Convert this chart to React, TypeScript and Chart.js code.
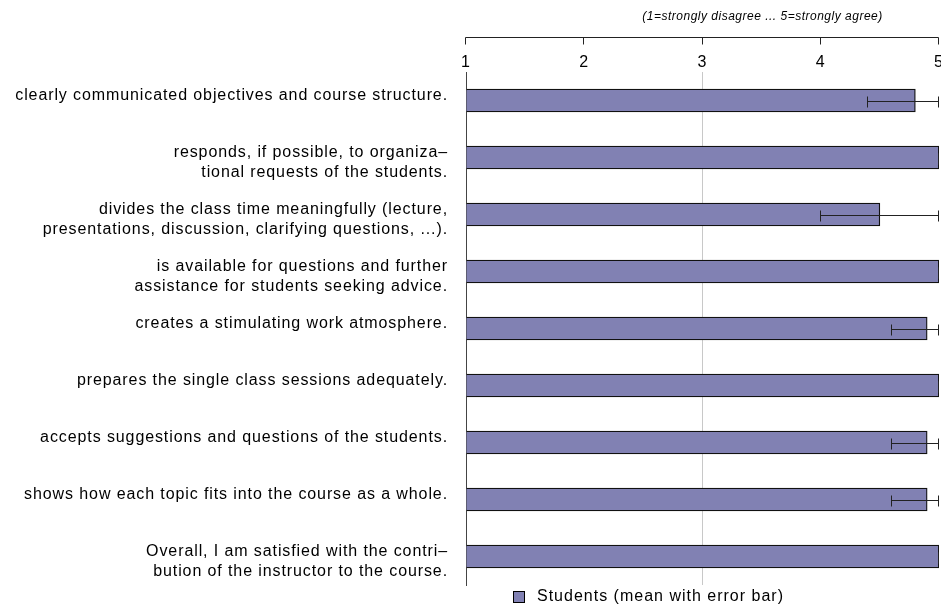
import React, { useEffect, useRef } from "react";
import { Chart, registerables } from "chart.js";

Chart.register(...registerables);

const categories: (string | string[])[] = [
  "clearly communicated objectives and course structure.",
  ["responds, if possible, to organiza–", "tional requests of the students."],
  ["divides the class time meaningfully (lecture,", "presentations, discussion, clarifying questions, ...)."],
  ["is available for questions and further", "assistance for students seeking advice."],
  "creates a stimulating work atmosphere.",
  "prepares the single class sessions adequately.",
  "accepts suggestions and questions of the students.",
  "shows how each topic fits into the course as a whole.",
  ["Overall, I am satisfied with the contri–", "bution of the instructor to the course."],
];
const means = [4.8, 5.0, 4.5, 5.0, 4.9, 5.0, 4.9, 4.9, 5.0];
const errLow = [4.4, 5.0, 4.0, 5.0, 4.6, 5.0, 4.6, 4.6, 5.0];
const errHigh = [5.0, 5.0, 5.0, 5.0, 5.0, 5.0, 5.0, 5.0, 5.0];
const xMin = 1;
const xMax = 5;
const scaleNote = "(1=strongly disagree ... 5=strongly agree)";
const seriesLabel = "Students (mean with error bar)";

const FONT = "'Liberation Sans', Arial, sans-serif";
const BAR_COLOR = "#8181b3";

// single-line labels get an empty second line so they sit like the reference
const yLabels = categories.map((c) => (Array.isArray(c) ? c : [c, ""]));

const spacingPlugin = {
  id: "spacing",
  beforeUpdate(chart: any) {
    chart.ctx.letterSpacing = "0.9px";
  },
  beforeDraw(chart: any) {
    chart.ctx.letterSpacing = "0.9px";
  },
};

const decorPlugin = {
  id: "decor",
  afterDraw(chart: any) {
    const ctx = chart.ctx;
    const xs = chart.scales.x;
    ctx.save();
    ctx.strokeStyle = "#222";
    ctx.lineWidth = 1;
    const yTop = Math.round(xs.top) + 0.5;
    ctx.beginPath();
    ctx.moveTo(Math.round(xs.getPixelForValue(xMin)) - 0.5, yTop);
    ctx.lineTo(Math.round(xs.getPixelForValue(xMax)) - 0.5, yTop);
    for (let v = xMin; v <= xMax; v++) {
      const px = Math.round(xs.getPixelForValue(v)) - 0.5;
      ctx.moveTo(px, yTop);
      ctx.lineTo(px, yTop + 7);
    }
    ctx.stroke();
    ctx.fillStyle = "#000";
    ctx.letterSpacing = "0.5px";
    ctx.font = `italic 12px ${FONT}`;
    ctx.textAlign = "center";
    ctx.textBaseline = "middle";
    ctx.fillText(scaleNote, 762.5, 17);
    ctx.fillStyle = BAR_COLOR;
    ctx.fillRect(513.5, 591.5, 11, 11);
    ctx.strokeStyle = "#000";
    ctx.strokeRect(513.5, 591.5, 11, 11);
    ctx.fillStyle = "#000";
    ctx.letterSpacing = "1px";
    ctx.font = `16px ${FONT}`;
    ctx.textAlign = "left";
    ctx.textBaseline = "alphabetic";
    ctx.fillText(seriesLabel, 537, 601);
    ctx.restore();
  },
};

const errorBarPlugin = {
  id: "errorBars",
  afterDatasetsDraw(chart: any) {
    const meta = chart.getDatasetMeta(0);
    const xs = chart.scales.x;
    const ctx = chart.ctx;
    ctx.save();
    ctx.strokeStyle = "#222";
    ctx.lineWidth = 1;
    meta.data.forEach((bar: any, i: number) => {
      const y = Math.round(bar.y) + 0.5;
      const x1 = Math.round(xs.getPixelForValue(errLow[i])) - 0.5;
      const x2 = Math.round(xs.getPixelForValue(errHigh[i])) - 0.5;
      ctx.beginPath();
      ctx.moveTo(x1, y);
      ctx.lineTo(x2, y);
      ctx.moveTo(x1, y - 5);
      ctx.lineTo(x1, y + 6);
      ctx.moveTo(x2, y - 5);
      ctx.lineTo(x2, y + 6);
      ctx.stroke();
    });
    ctx.restore();
  },
};

export default function App() {
  const ref = useRef<HTMLCanvasElement | null>(null);
  useEffect(() => {
    document.body.style.margin = "0";
    document.body.style.overflow = "hidden";
    const canvas = ref.current!;
    const chart = new Chart(canvas, {
      type: "bar",
      data: {
        labels: yLabels as any,
        datasets: [
          {
            label: seriesLabel,
            data: means,
            base: xMin,
            backgroundColor: BAR_COLOR,
            borderColor: "#111",
            borderWidth: 1.3,
            barThickness: 23,
          } as any,
        ],
      },
      options: {
        indexAxis: "y",
        animation: false,
        responsive: false,
        devicePixelRatio: 1,
        layout: { padding: { top: 37, right: 6, bottom: 21, left: 0 } },
        plugins: {
          legend: { display: false },
          tooltip: { enabled: false },
        },
        scales: {
          x: {
            type: "linear",
            position: "top",
            min: xMin,
            max: xMax,
            ticks: {
              stepSize: 1,
              color: "#000",
              padding: 0,
              font: { family: FONT, size: 16 },
            },
            grid: {
              drawTicks: false,
              color: (c: any) => (c.tick && c.tick.value === 3 ? "#c8c8c8" : "rgba(0,0,0,0)"),
              lineWidth: 1,
            },
            border: { display: false },
            afterFit: (s: any) => {
              s.height = 35;
            },
          },
          y: {
            type: "category",
            ticks: {
              color: "#000",
              padding: 18,
              labelOffset: 5,
              font: { family: FONT, size: 16, lineHeight: 1.2 },
            },
            grid: { display: false, drawTicks: false },
            border: { display: true, color: "#444", width: 1 },
            afterFit: (s: any) => {
              s.width = 466;
              s.paddingTop = 0;
              s.paddingBottom = 0;
            },
          },
        },
      },
      plugins: [spacingPlugin, errorBarPlugin, decorPlugin],
    });
    return () => chart.destroy();
  }, []);
  return <canvas ref={ref} width={945} height={606} style={{ display: "block" }} />;
}
